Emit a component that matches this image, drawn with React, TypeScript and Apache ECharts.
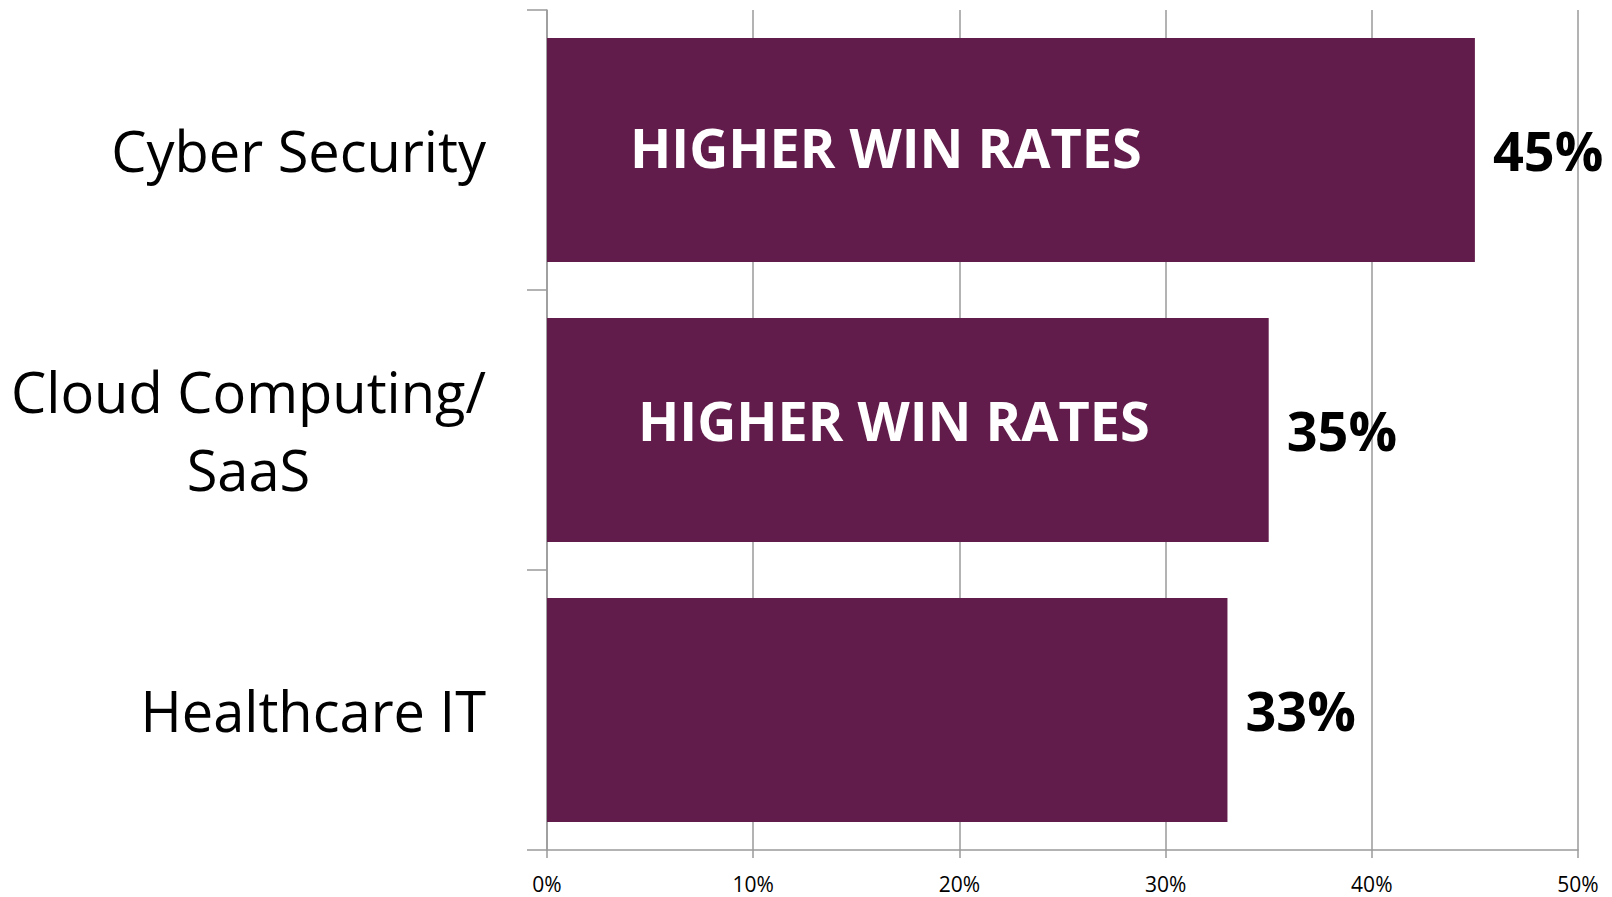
import React, { useEffect, useRef } from "react";
import * as echarts from "echarts";

const categories = ["Cyber Security", "Cloud Computing/\nSaaS", "Healthcare IT"];
const winRates = [45, 35, 33];
const insideLabels = ["HIGHER WIN RATES", "HIGHER WIN RATES", ""];
const xTicks = [0, 10, 20, 30, 40, 50];

const FONT = '"Open Sans", "Noto Sans", sans-serif';
const BAR_COLOR = "#621C4B";
const GRID_COLOR = "#9a9a9a";

export default function App() {
  const ref = useRef<HTMLDivElement>(null);
  useEffect(() => {
    if (!ref.current) return;
    const chart = echarts.init(ref.current, undefined, { renderer: "svg" });

    const catFontSize = 56;
    const canvas = document.createElement("canvas");
    const ctx = canvas.getContext("2d");
    const measure = (s: string) => {
      if (!ctx) return s.length * catFontSize * 0.55;
      ctx.font = `${catFontSize}px "Open Sans"`;
      return ctx.measureText(s).width;
    };

    const yData = categories.map((c) => {
      if (c.includes("\n")) {
        const w = Math.max(...c.split("\n").map(measure));
        return { value: c, textStyle: { align: "center", padding: [0, w, 0, 0] } };
      }
      return c;
    });

    const insideOffsets = [[-2, -3], [6, -10], [0, 0]];

    chart.setOption({
      animation: false,
      backgroundColor: "#ffffff",
      grid: { left: 547, right: 34, top: 10, bottom: 47, containLabel: false },
      xAxis: {
        type: "value",
        min: xTicks[0],
        max: xTicks[xTicks.length - 1],
        interval: xTicks[1] - xTicks[0],
        axisLine: { show: true, lineStyle: { color: GRID_COLOR, width: 1.5 } },
        axisTick: { show: true, length: 8, lineStyle: { color: GRID_COLOR, width: 1.5 } },
        splitLine: { show: true, lineStyle: { color: GRID_COLOR, width: 1.5 } },
        axisLabel: {
          formatter: "{value}%",
          fontFamily: FONT,
          fontSize: 21,
          color: "#000",
          margin: 23,
        },
      },
      yAxis: {
        type: "category",
        inverse: true,
        data: yData,
        axisLine: { show: true, lineStyle: { color: GRID_COLOR, width: 1.5 } },
        axisTick: { show: true, length: 20, alignWithLabel: false, lineStyle: { color: GRID_COLOR, width: 1.5 } },
        axisLabel: {
          interval: 0,
          fontFamily: FONT,
          fontSize: catFontSize,
          lineHeight: 78,
          color: "#000",
          margin: 61,
          align: "right",
        },
      },
      series: [
        {
          type: "bar",
          data: winRates,
          barCategoryGap: "20%",
          itemStyle: { color: BAR_COLOR },
          label: {
            show: true,
            position: "right",
            distance: 18,
            formatter: "{c}%",
            fontFamily: FONT,
            fontWeight: "bold",
            fontSize: 54,
            color: "#000",
          },
          z: 2,
        },
        {
          type: "bar",
          barGap: "-100%",
          barCategoryGap: "20%",
          data: winRates.map((v, i) => ({
            value: v,
            label: {
              show: insideLabels[i] !== "",
              formatter: insideLabels[i],
              offset: insideOffsets[i],
            },
          })),
          itemStyle: { color: "rgba(0,0,0,0)" },
          label: {
            position: "insideLeft",
            distance: 85,
            fontFamily: FONT,
            fontWeight: "bold",
            fontSize: 54,
            color: "#fff",
          },
          silent: true,
          z: 3,
        },
      ],
    });
    return () => chart.dispose();
  }, []);
  return (
    <div
      ref={ref}
      style={{ position: "fixed", left: 0, top: 0, width: 1612, height: 897, background: "#fff" }}
    />
  );
}
